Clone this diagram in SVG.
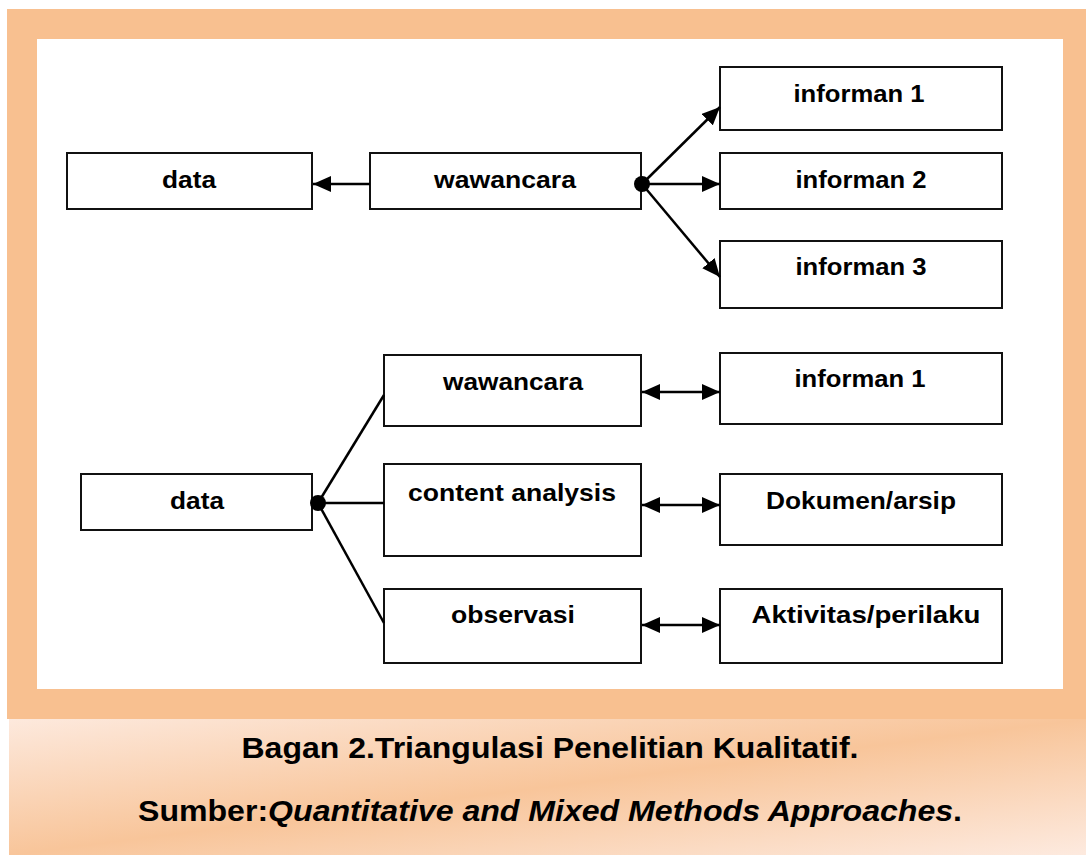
<svg xmlns="http://www.w3.org/2000/svg" width="1086" height="855" viewBox="0 0 1086 855">
<style>
.box{fill:#fff;stroke:#111;stroke-width:2}
.lbl{font-family:"Liberation Sans",Arial,sans-serif;font-weight:bold;font-size:24px;fill:#000;text-anchor:middle}
.cap{font-family:"Liberation Sans",Arial,sans-serif;font-weight:bold;font-size:29px;fill:#000;text-anchor:middle}
.ln{stroke:#000;stroke-width:2.5;fill:none}
</style>
<defs>
<marker id="ah" markerUnits="userSpaceOnUse" markerWidth="18" markerHeight="16" viewBox="0 0 18 16" refX="18" refY="8" orient="auto-start-reverse">
<path d="M0,0 L18,8 L0,16 Z" fill="#000"/>
</marker>
<linearGradient id="capg" x1="0" y1="0" x2="1" y2="1">
<stop offset="0" stop-color="#fde9dd"/>
<stop offset="0.5" stop-color="#f8c59a"/>
<stop offset="1" stop-color="#fdeadf"/>
</linearGradient>
</defs>
<rect x="0" y="0" width="1086" height="855" fill="#fff"/>
<g id="frame">
<rect x="7" y="9" width="1079" height="710" fill="#f8c090"/>
<rect x="37" y="39" width="1026" height="650" fill="#fff"/>
<rect x="9" y="719" width="1077" height="136" fill="url(#capg)"/>
</g>
<g id="n-data1"><rect class="box" x="67" y="153" width="245" height="56"/><text class="lbl" x="189" y="188" textLength="54" lengthAdjust="spacingAndGlyphs">data</text></g>
<g id="n-wawancara1"><rect class="box" x="370" y="153" width="271" height="56"/><text class="lbl" x="505" y="188" textLength="142" lengthAdjust="spacingAndGlyphs">wawancara</text></g>
<g id="n-inf1a"><rect class="box" x="720" y="67" width="282" height="63"/><text class="lbl" x="859" y="102" textLength="131" lengthAdjust="spacingAndGlyphs">informan 1</text></g>
<g id="n-inf2"><rect class="box" x="720" y="153" width="282" height="56"/><text class="lbl" x="861" y="188" textLength="131" lengthAdjust="spacingAndGlyphs">informan 2</text></g>
<g id="n-inf3"><rect class="box" x="720" y="241" width="282" height="67"/><text class="lbl" x="861" y="275" textLength="131" lengthAdjust="spacingAndGlyphs">informan 3</text></g>
<g id="n-data2"><rect class="box" x="81" y="474" width="231" height="56"/><text class="lbl" x="197" y="509" textLength="54" lengthAdjust="spacingAndGlyphs">data</text></g>
<g id="n-wawancara2"><rect class="box" x="384" y="355" width="257" height="71"/><text class="lbl" x="513" y="390" textLength="140" lengthAdjust="spacingAndGlyphs">wawancara</text></g>
<g id="n-content"><rect class="box" x="384" y="464" width="257" height="92"/><text class="lbl" x="512" y="501" textLength="208" lengthAdjust="spacingAndGlyphs">content analysis</text></g>
<g id="n-observasi"><rect class="box" x="384" y="589" width="257" height="74"/><text class="lbl" x="513" y="623" textLength="124" lengthAdjust="spacingAndGlyphs">observasi</text></g>
<g id="n-inf1b"><rect class="box" x="720" y="353" width="282" height="71"/><text class="lbl" x="860" y="387" textLength="131" lengthAdjust="spacingAndGlyphs">informan 1</text></g>
<g id="n-dokumen"><rect class="box" x="720" y="474" width="282" height="71"/><text class="lbl" x="861" y="509" textLength="190" lengthAdjust="spacingAndGlyphs">Dokumen/arsip</text></g>
<g id="n-aktivitas"><rect class="box" x="720" y="589" width="282" height="74"/><text class="lbl" x="866" y="623" textLength="229" lengthAdjust="spacingAndGlyphs">Aktivitas/perilaku</text></g>
<g id="connectors">
<line class="ln" x1="370" y1="184" x2="313" y2="184" marker-end="url(#ah)"/>
<line class="ln" x1="642" y1="184" x2="720" y2="107" marker-end="url(#ah)"/>
<line class="ln" x1="642" y1="184" x2="720" y2="184" marker-end="url(#ah)"/>
<line class="ln" x1="642" y1="184" x2="720" y2="277" marker-end="url(#ah)"/>
<circle cx="642" cy="184" r="8" fill="#000"/>
<line class="ln" x1="318" y1="503" x2="384" y2="395"/>
<line class="ln" x1="318" y1="503" x2="384" y2="503"/>
<line class="ln" x1="318" y1="503" x2="384" y2="623"/>
<circle cx="318" cy="503" r="8" fill="#000"/>
<line class="ln" x1="642" y1="392" x2="720" y2="392" marker-start="url(#ah)" marker-end="url(#ah)"/>
<line class="ln" x1="642" y1="505" x2="720" y2="505" marker-start="url(#ah)" marker-end="url(#ah)"/>
<line class="ln" x1="642" y1="625" x2="720" y2="625" marker-start="url(#ah)" marker-end="url(#ah)"/>
</g>
<g id="caption">
<text class="cap" x="550" y="758" textLength="617" lengthAdjust="spacingAndGlyphs">Bagan 2.Triangulasi Penelitian Kualitatif.</text>
<text class="cap" x="550" y="821" textLength="824" lengthAdjust="spacingAndGlyphs">Sumber:<tspan font-style="italic">Quantitative and Mixed Methods Approaches</tspan>.</text>
</g>
</svg>
